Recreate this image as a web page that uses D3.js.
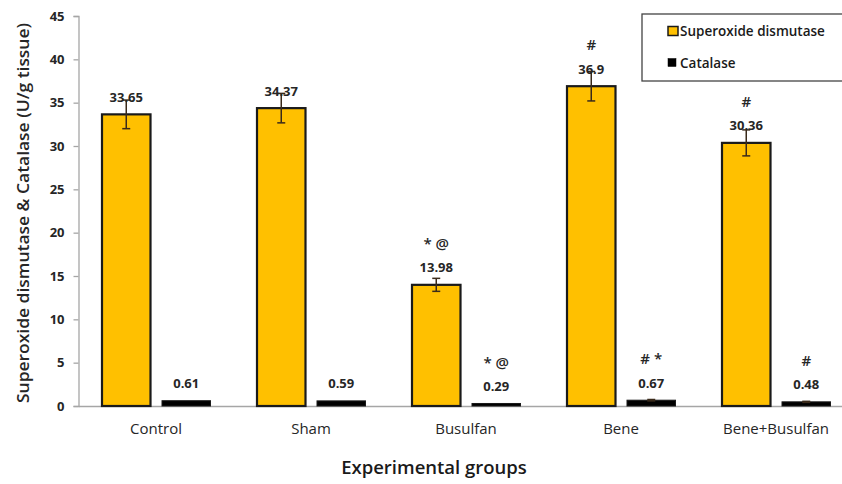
<!DOCTYPE html>
<html>
<head>
<meta charset="utf-8">
<script src="https://cdn.jsdelivr.net/npm/d3@7"></script>
<style>
  body { margin: 0; background: #fff; }
  svg { display: block; font-family: "Open Sans", sans-serif; }
</style>
</head>
<body>
<script>
const w = 842;
const h = 484;

// data
const groups = ["Control", "Sham", "Busulfan", "Bene", "Bene+Busulfan"];
const sodValues = [33.65, 34.37, 13.98, 36.9, 30.36];
const sodErrors = [1.65, 1.7, 0.75, 1.7, 1.5];
const sodMarks = ["", "", "* @", "#", "#"];
const catValues = [0.61, 0.59, 0.29, 0.67, 0.48];
const catErrors = [0, 0, 0, 0.08, 0.06];
const catMarks = ["", "", "* @", "# *", "#"];
const yTicks = [0, 5, 10, 15, 20, 25, 30, 35, 40, 45];

const plotLeft = 78.5;
const plotBottom = 406;
const plotTop = 16;

const svg = d3.select("body").append("svg").attr("width", w).attr("height", h);

const x = d3.scaleBand().domain(groups).range([plotLeft, plotLeft + 5 * 155]);
const y = d3.scaleLinear().domain([0, 45]).range([plotBottom, plotTop]);

// bar positions inside each group
const barW = 48.5;
const sodX = (i) => x(groups[i]) + 23.5;
const catX = (i) => x(groups[i]) + 83.5;

/* y axis */
const yAxis = d3.axisLeft(y).tickValues(yTicks).tickSize(5).tickPadding(9);
svg.append("g")
  .attr("transform", `translate(${plotLeft},0)`)
  .call(yAxis)
  .call((g) => g.select(".domain").attr("stroke", "#a6a6a6").attr("stroke-width", 1.3))
  .call((g) => g.selectAll(".tick line").attr("stroke", "#a6a6a6").attr("stroke-width", 1.3))
  .call((g) => g.selectAll(".tick text")
    .attr("fill", "#262626").attr("font-size", 13).attr("font-weight", 700)
    .attr("font-family", "'Open Sans', sans-serif"));

/* x axis */
const xAxis = d3.axisBottom(x).tickSize(0).tickPadding(17);
svg.append("g")
  .attr("transform", `translate(0,${plotBottom})`)
  .call(xAxis)
  .call((g) => g.select(".domain").attr("stroke", "#a6a6a6").attr("stroke-width", 1.5))
  .call((g) => g.selectAll(".tick text")
    .attr("fill", "#262626").attr("font-size", 15).attr("font-weight", 500)
    .attr("font-family", "'Open Sans', sans-serif"));

/* SOD bars */
svg.selectAll("rect.sod")
  .data(sodValues)
  .enter()
  .append("rect")
  .attr("class", "sod")
  .attr("x", (d, i) => sodX(i))
  .attr("y", (d) => y(d))
  .attr("width", barW)
  .attr("height", (d) => y(0) - y(d))
  .attr("fill", "#ffc000")
  .attr("stroke", "#1a1a1a")
  .attr("stroke-width", 2.2);

/* catalase bars */
svg.selectAll("rect.cat")
  .data(catValues)
  .enter()
  .append("rect")
  .attr("class", "cat")
  .attr("x", (d, i) => catX(i))
  .attr("y", (d) => y(d))
  .attr("width", barW)
  .attr("height", (d) => y(0) - y(d))
  .attr("fill", "#000")
  .attr("stroke", "#1a1a1a")
  .attr("stroke-width", 1);

/* error bars */
function errorBars(values, errors, xf) {
  const rows = values.map((v, i) => ({ v: v, e: errors[i], cx: xf(i) + barW / 2 }))
    .filter((d) => d.e > 0);
  const g = svg.append("g").attr("stroke", "#3a2a1a").attr("stroke-width", 1.5);
  g.selectAll("line.stem").data(rows).enter().append("line")
    .attr("x1", (d) => d.cx).attr("x2", (d) => d.cx)
    .attr("y1", (d) => y(d.v + d.e)).attr("y2", (d) => y(d.v - d.e));
  g.selectAll("line.capTop").data(rows).enter().append("line")
    .attr("x1", (d) => d.cx - 4).attr("x2", (d) => d.cx + 4)
    .attr("y1", (d) => y(d.v + d.e)).attr("y2", (d) => y(d.v + d.e));
  g.selectAll("line.capBottom").data(rows).enter().append("line")
    .attr("x1", (d) => d.cx - 4).attr("x2", (d) => d.cx + 4)
    .attr("y1", (d) => y(d.v - d.e)).attr("y2", (d) => y(d.v - d.e));
}
errorBars(sodValues, sodErrors, sodX);
errorBars(catValues, catErrors, catX);

/* value labels and significance marks */
function labels(values, marks, xf) {
  svg.append("g").selectAll("text")
    .data(values)
    .enter()
    .append("text")
    .attr("x", (d, i) => xf(i) + barW / 2)
    .attr("y", (d) => y(d) - 17)
    .attr("dy", "0.35em")
    .attr("text-anchor", "middle")
    .attr("font-size", 13)
    .attr("font-weight", 700)
    .attr("fill", "#262626")
    .text((d) => d);
  svg.append("g").selectAll("text")
    .data(values)
    .enter()
    .append("text")
    .attr("x", (d, i) => xf(i) + barW / 2)
    .attr("y", (d) => y(d) - 41)
    .attr("dy", "0.35em")
    .attr("text-anchor", "middle")
    .attr("font-size", 15)
    .attr("font-weight", 600)
    .attr("fill", "#262626")
    .text((d, i) => marks[i]);
}
labels(sodValues, sodMarks, sodX);
labels(catValues, catMarks, catX);

/* axis titles */
svg.append("text")
  .attr("transform", `translate(23,${(plotTop + plotBottom) / 2 + 2}) rotate(-90)`)
  .attr("dy", "0.35em")
  .attr("text-anchor", "middle")
  .attr("font-size", 16)
  .attr("font-weight", 600)
  .attr("textLength", 380)
  .attr("lengthAdjust", "spacingAndGlyphs")
  .attr("fill", "#262626")
  .text("Superoxide dismutase & Catalase (U/g tissue)");

svg.append("text")
  .attr("x", 434)
  .attr("y", 468)
  .attr("dy", "0.35em")
  .attr("text-anchor", "middle")
  .attr("font-size", 18.5)
  .attr("font-weight", 600)
  .attr("fill", "#1a1a1a")
  .text("Experimental groups");

/* legend */
const legend = svg.append("g").attr("transform", "translate(642,14)");
legend.append("rect")
  .attr("width", 220)
  .attr("height", 67)
  .attr("fill", "#fff")
  .attr("stroke", "#444")
  .attr("stroke-width", 1.3);
const legendItems = [
  { name: "Superoxide dismutase", fill: "#ffc000", stroke: "#1a1a1a" },
  { name: "Catalase", fill: "#000", stroke: "#000" },
];
legendItems.forEach((d, i) => {
  const row = legend.append("g").attr("transform", `translate(26,${17 + i * 32})`);
  row.append("rect")
    .attr("x", 0).attr("y", -4.5)
    .attr("width", i === 0 ? 10 : 8).attr("height", i === 0 ? 9 : 8)
    .attr("fill", d.fill).attr("stroke", d.stroke).attr("stroke-width", i === 0 ? 1.5 : 0.5);
  row.append("text")
    .attr("x", 12)
    .attr("dy", "0.35em")
    .attr("font-size", 13.5)
    .attr("font-weight", 600)
    .attr("fill", "#1a1a1a")
    .text(d.name);
});
</script>
</body>
</html>
